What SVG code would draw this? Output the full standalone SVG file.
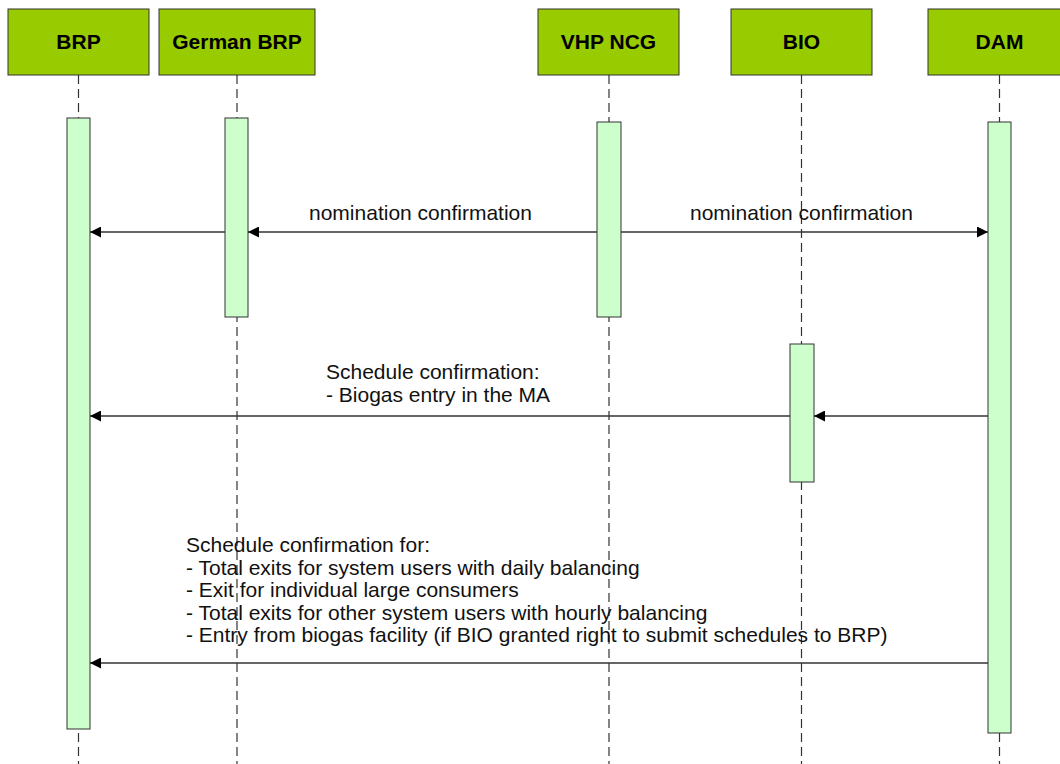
<svg xmlns="http://www.w3.org/2000/svg" width="1060" height="764" viewBox="0 0 1060 764">
<style>
.hdr{fill:#99CC00;stroke:#333333;stroke-width:1}
.htxt{font-family:"Liberation Sans",Arial,sans-serif;font-size:21px;font-weight:bold;fill:#000;text-anchor:middle}
.life{stroke:#333333;stroke-width:1.2;stroke-dasharray:9 5;fill:none}
.bar{fill:#CCFFCC;stroke:#333333;stroke-width:1}
.msg{stroke:#333333;stroke-width:1.4;fill:none}
.lbl{font-family:"Liberation Sans",Arial,sans-serif;font-size:21px;fill:#111}
</style>
<defs>
<marker id="arr" markerUnits="userSpaceOnUse" markerWidth="12" markerHeight="11" refX="11" refY="5.5" orient="auto">
<path d="M0,0 L11,5.5 L0,11 Z" fill="#000"/>
</marker>
</defs>
<rect width="1060" height="764" fill="#ffffff"/>
<g id="lifelines">
<line class="life" x1="78.5" y1="75" x2="78.5" y2="764"/>
<line class="life" x1="237" y1="75" x2="237" y2="764"/>
<line class="life" x1="609" y1="75" x2="609" y2="764"/>
<line class="life" x1="801.5" y1="75" x2="801.5" y2="764"/>
<line class="life" x1="999.5" y1="75" x2="999.5" y2="764"/>
</g>
<g id="node-BRP">
<rect class="hdr" x="8" y="9" width="141" height="66"/>
<text class="htxt" x="78.5" y="49">BRP</text>
<rect class="bar" x="67" y="118" width="23" height="611"/>
</g>
<g id="node-GermanBRP">
<rect class="hdr" x="159" y="9" width="156" height="66"/>
<text class="htxt" x="237" y="49">German BRP</text>
<rect class="bar" x="225" y="118" width="23" height="199"/>
</g>
<g id="node-VHPNCG">
<rect class="hdr" x="538" y="9" width="141" height="66"/>
<text class="htxt" x="608.5" y="49">VHP NCG</text>
<rect class="bar" x="597" y="122" width="24" height="195"/>
</g>
<g id="node-BIO">
<rect class="hdr" x="731" y="9" width="141" height="66"/>
<text class="htxt" x="801.5" y="49">BIO</text>
<rect class="bar" x="790" y="344" width="24" height="138"/>
</g>
<g id="node-DAM">
<rect class="hdr" x="928" y="9" width="141" height="66"/>
<text class="htxt" x="999.5" y="49">DAM</text>
<rect class="bar" x="988" y="122" width="23" height="611"/>
</g>
<g id="connectors">
<line class="msg" x1="597" y1="232" x2="248" y2="232" marker-end="url(#arr)"/>
<line class="msg" x1="225" y1="232" x2="90" y2="232" marker-end="url(#arr)"/>
<line class="msg" x1="621" y1="232" x2="988" y2="232" marker-end="url(#arr)"/>
<line class="msg" x1="988" y1="416" x2="814" y2="416" marker-end="url(#arr)"/>
<line class="msg" x1="790" y1="416" x2="90" y2="416" marker-end="url(#arr)"/>
<line class="msg" x1="988" y1="663" x2="90" y2="663" marker-end="url(#arr)"/>
</g>
<g id="labels">
<text class="lbl" x="309" y="220">nomination confirmation</text>
<text class="lbl" x="690" y="220">nomination confirmation</text>
<text class="lbl" x="326" y="379">Schedule confirmation:</text>
<text class="lbl" x="326" y="402">- Biogas entry in the MA</text>
<text class="lbl" x="186" y="552">Schedule confirmation for:</text>
<text class="lbl" x="186" y="574.5">- Total exits for system users with daily balancing</text>
<text class="lbl" x="186" y="597">- Exit for individual large consumers</text>
<text class="lbl" x="186" y="619.5">- Total exits for other system users with hourly balancing</text>
<text class="lbl" x="186" y="642">- Entry from biogas facility (if BIO granted right to submit schedules to BRP)</text>
</g>
</svg>
